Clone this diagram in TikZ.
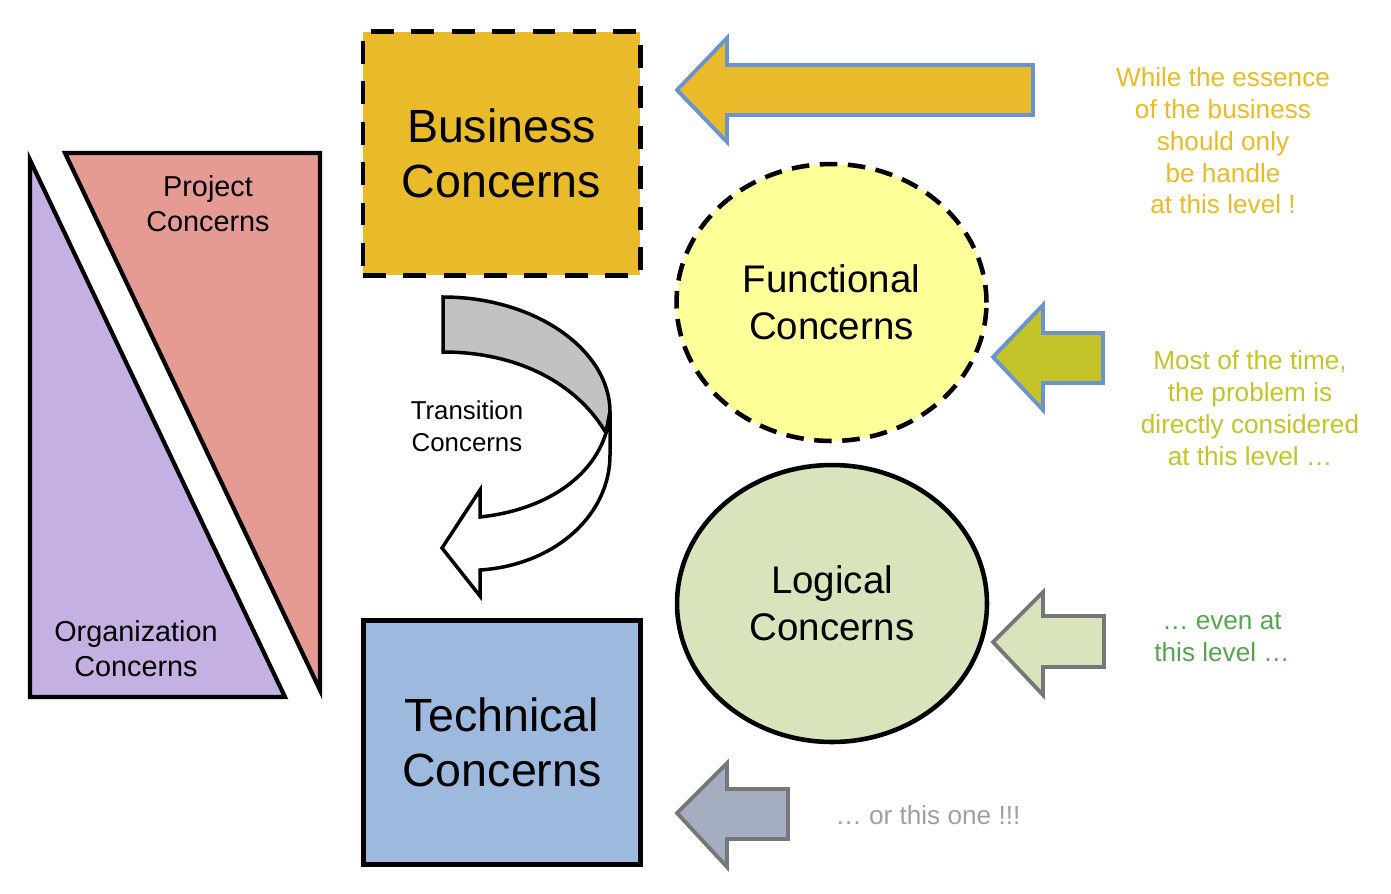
\documentclass[tikz,border=0pt]{standalone}
\usepackage{fontspec}
\setmainfont{Liberation Sans}
\usepackage{tikz}
\usetikzlibrary{shapes}
\definecolor{busgold}{HTML}{E9BB2A}
\definecolor{techblue}{HTML}{9DB9DE}
\definecolor{funcyellow}{HTML}{FFFF99}
\definecolor{logicgreen}{HTML}{D7E4BC}
\definecolor{projred}{HTML}{E59A94}
\definecolor{orgpurple}{HTML}{C5B0E3}
\definecolor{edgeblue}{HTML}{6B93CF}
\definecolor{olive}{HTML}{C4C42A}
\definecolor{edgegray}{HTML}{777777}
\definecolor{slate}{HTML}{A5AEC0}
\definecolor{notegreen}{HTML}{55A550}
\definecolor{notegray}{HTML}{A0A0A0}
\tikzstyle{concernbox}=[rectangle,draw,line width=2.6pt,minimum width=5.55cm,minimum height=4.88cm,align=center,font=\fontsize{26.5}{31}\selectfont]
\tikzstyle{concernellipse}=[ellipse,draw,line width=2.6pt,minimum width=6.2cm,minimum height=5.54cm,inner sep=0pt,align=center,font=\fontsize{21.9}{26.6}\selectfont]
\tikzstyle{blockarrow}=[line width=2.2pt,line join=miter]
\tikzstyle{note}=[align=center,font=\fontsize{14.9}{18.1}\selectfont]
\tikzstyle{wedge}=[draw,line width=2.4pt,line join=miter]

\begin{document}
\begin{tikzpicture}[x=0.02cm,y=-0.02cm]
        \useasboundingbox (0,0) rectangle (1391,893);
        % side wedges
        \filldraw[wedge,fill=projred] (65,153) -- (320,153) -- (320,690) -- cycle;
        \filldraw[wedge,fill=orgpurple] (30,160) -- (30,697) -- (285,697) -- cycle;
        \node[align=center,font=\fontsize{16.4}{19.8}\selectfont] (project) at (208,204) {Project\\Concerns};
        \node[align=center,font=\fontsize{16.4}{19.8}\selectfont] (organization) at (136,649) {Organization\\Concerns};

        \node[concernbox,fill=busgold,dash pattern=on 13pt off 10pt] (business) at (501.5,153.5) {Business\\Concerns};
        \node[concernbox,fill=techblue] (technical) at (502,742.5) {Technical\\Concerns};
        \node[concernellipse,fill=funcyellow,dash pattern=on 10pt off 6pt] (functional) at (831.5,302.5) {Functional\\Concerns};
        \node[concernellipse,fill=logicgreen] (logical) at (832,603.5) {Logical\\Concerns};

        % transition
        \filldraw[line width=2pt,fill=black!24] (443,297) .. controls (535,297) and (610,350) .. (610,412)
            -- (606,433) .. controls (578,385) and (520,352) .. (443,352) -- cycle;
        \filldraw[line width=2pt,fill=white,line join=miter] (606,433) -- (610,412) -- (610,455)
            .. controls (610,515) and (555,565) .. (480,570) -- (480,596) -- (442,548) -- (480,490) -- (480,517)
            .. controls (545,510) and (592,478) .. (606,433);
        \node[align=center,font=\fontsize{14.7}{18.1}\selectfont] (transition) at (467,426) {Transition\\Concerns};

        % arrows
        \filldraw[blockarrow,draw=edgeblue,fill=busgold] (677,90) -- (727,38) -- (727,65) -- (1033,65) -- (1033,115) -- (727,115) -- (727,142) -- cycle;
        \filldraw[blockarrow,draw=edgeblue,fill=olive] (993,357) -- (1043,305) -- (1043,333) -- (1103,333) -- (1103,383) -- (1043,383) -- (1043,410) -- cycle;
        \filldraw[blockarrow,draw=edgegray,fill=logicgreen] (993,642) -- (1043,592) -- (1043,616) -- (1104,616) -- (1104,667) -- (1043,667) -- (1043,695) -- cycle;
        \filldraw[blockarrow,draw=edgegray,fill=slate] (677,813) -- (727,763) -- (727,789) -- (788,789) -- (788,839) -- (727,839) -- (727,867) -- cycle;

        \node[note,text=busgold] (essence) at (1223,141) {While the essence\\of the business\\should only\\be handle\\at this level !};
        \node[note,text=olive] (mosttime) at (1250,408) {Most of the time,\\the problem is\\directly considered\\at this level \dots};
        \node[note,text=notegreen] (evenat) at (1222,637) {\dots\ even at\\this level \dots};
        \node[note,text=notegray] (thisone) at (928,815) {\dots\ or this one !!!};
\end{tikzpicture}
\end{document}
